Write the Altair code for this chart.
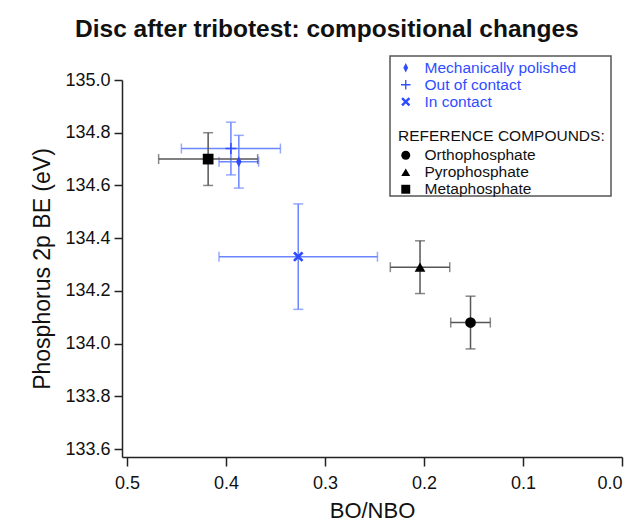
import altair as alt
import pandas as pd

# ---- data ----
samples = ["Mechanically polished", "Out of contact", "In contact"]
sample_x = [0.387, 0.395, 0.327]
sample_y = [134.69, 134.74, 134.33]
sample_xerr = [0.02, 0.05, 0.08]
sample_yerr = [0.10, 0.10, 0.20]

refs = ["Orthophosphate", "Pyrophosphate", "Metaphosphate"]
ref_x = [0.153, 0.204, 0.418]
ref_y = [134.08, 134.29, 134.70]
ref_xerr = [0.02, 0.03, 0.05]
ref_yerr = [0.10, 0.10, 0.10]

x_ticks = [0.0, 0.1, 0.2, 0.3, 0.4, 0.5]
y_ticks = [133.6, 133.8, 134.0, 134.2, 134.4, 134.6, 134.8, 135.0]

FONT = "Liberation Sans"
BLUE = "#2f4dff"
BLUE_ERR = "#6a86ff"
GRAY_ERR = "#555555"


def frame(names, xs, ys, xe, ye):
    return pd.DataFrame({
        "name": names, "x": xs, "y": ys,
        "xlo": [a - b for a, b in zip(xs, xe)], "xhi": [a + b for a, b in zip(xs, xe)],
        "ylo": [a - b for a, b in zip(ys, ye)], "yhi": [a + b for a, b in zip(ys, ye)],
    })


sdf = frame(samples, sample_x, sample_y, sample_xerr, sample_yerr)
rdf = frame(refs, ref_x, ref_y, ref_xerr, ref_yerr)

xscale = alt.Scale(domain=[0, 0.505], reverse=True, nice=False, zero=False)
yscale = alt.Scale(domain=[133.57, 135.0], nice=False, zero=False)

xaxis = alt.Axis(values=x_ticks, format=".1f", title="BO/NBO", grid=False,
                 labelFontSize=18, titleFontSize=22, titleFontWeight="normal",
                 labelFont=FONT, titleFont=FONT, tickSize=9, labelPadding=8,
                 titlePadding=8, domainColor="#222", tickColor="#222",
                 domainWidth=1.5, tickWidth=1.5, labelColor="#111", titleColor="#111")
yaxis = alt.Axis(values=y_ticks, format=".1f", title="Phosphorus 2p BE (eV)", grid=False,
                 labelFontSize=18, titleFontSize=23, titleFontWeight="normal",
                 labelFont=FONT, titleFont=FONT, tickSize=8, labelPadding=4,
                 titlePadding=10, domainColor="#222", tickColor="#222",
                 domainWidth=1.5, tickWidth=1.5, labelColor="#111", titleColor="#111")

base_s = alt.Chart(sdf)
base_r = alt.Chart(rdf)

# legend box
box = alt.Chart(pd.DataFrame({"k": [0]})).mark_rect(
    fill="white", stroke="#555", strokeWidth=1.5
).encode(x=alt.value(268), x2=alt.value(489), y=alt.value(-24), y2=alt.value(116))

s_xerr = base_s.mark_errorbar(ticks={"size": 10}, thickness=1.5, color=BLUE_ERR).encode(
    x=alt.X("xlo:Q", scale=xscale, axis=xaxis), x2="xhi:Q",
    y=alt.Y("y:Q", scale=yscale, axis=yaxis))
s_yerr = base_s.mark_errorbar(ticks={"size": 10}, thickness=1.5, color=BLUE_ERR).encode(
    x=alt.X("x:Q", scale=xscale, axis=xaxis),
    y=alt.Y("ylo:Q", scale=yscale, axis=yaxis), y2="yhi:Q")
r_xerr = base_r.mark_errorbar(ticks={"size": 10}, thickness=1.5, color=GRAY_ERR).encode(
    x=alt.X("xlo:Q", scale=xscale, axis=xaxis), x2="xhi:Q",
    y=alt.Y("y:Q", scale=yscale, axis=yaxis))
r_yerr = base_r.mark_errorbar(ticks={"size": 10}, thickness=1.5, color=GRAY_ERR).encode(
    x=alt.X("x:Q", scale=xscale, axis=xaxis),
    y=alt.Y("ylo:Q", scale=yscale, axis=yaxis), y2="yhi:Q")

# filled outlines: slim diamond, thin plus, bold cross
DIAMOND = "M0,-1L0.5,0L0,1L-0.5,0Z"
PLUS = ("M-1,-0.14L-0.14,-0.14L-0.14,-1L0.14,-1L0.14,-0.14L1,-0.14"
        "L1,0.14L0.14,0.14L0.14,1L-0.14,1L-0.14,0.14L-1,0.14Z")
CROSS = ("M0.601,0.955L0.955,0.601L-0.601,-0.955L-0.955,-0.601Z"
         "M0.955,-0.601L0.601,-0.955L-0.955,0.601L-0.601,0.955Z")
sample_shapes = [DIAMOND, PLUS, CROSS]

s_pts = base_s.mark_point(filled=True, color=BLUE, opacity=1, size=120, strokeWidth=0).encode(
    x=alt.X("x:Q", scale=xscale, axis=xaxis),
    y=alt.Y("y:Q", scale=yscale, axis=yaxis),
    shape=alt.Shape("name:N", scale=alt.Scale(domain=samples, range=sample_shapes),
                    legend=alt.Legend(title=None, orient="none", legendX=276, legendY=-20,
                                      labelColor=BLUE, labelFontSize=15.5, labelFont=FONT,
                                      symbolFillColor=BLUE, symbolStrokeColor=BLUE,
                                      symbolStrokeWidth=0, symbolSize=90, rowPadding=0,
                                      labelOffset=11, labelLimit=300)),
)

r_pts = base_r.mark_point(filled=True, color="black", opacity=1, size=115).encode(
    x=alt.X("x:Q", scale=xscale, axis=xaxis),
    y=alt.Y("y:Q", scale=yscale, axis=yaxis),
    shape=alt.Shape("name:N", scale=alt.Scale(domain=refs, range=["circle", "triangle-up", "square"]),
                    legend=alt.Legend(title="REFERENCE COMPOUNDS:", orient="none", legendX=276,
                                      legendY=49, titleFontSize=15.5, titleFontWeight="normal",
                                      titleFont=FONT, titleColor="#111", titlePadding=3,
                                      titleLimit=400, labelLimit=300,
                                      labelColor="#111", labelFontSize=15.5, labelFont=FONT,
                                      symbolFillColor="black", symbolStrokeColor="black",
                                      symbolSize=80, rowPadding=0, labelOffset=11)),
)

chart = alt.layer(box, s_xerr, s_yerr, r_xerr, r_yerr, s_pts, r_pts).resolve_scale(
    shape="independent"
).properties(
    width=500, height=377,
    autosize=alt.AutoSizeParams(type="none"),
    padding={"left": 114, "top": 72, "right": 8, "bottom": 65},
    title=alt.TitleParams(text="Disc after tribotest: compositional changes", fontSize=24.5,
                          fontWeight="bold", font=FONT, anchor="start", frame="group",
                          dx=-47, offset=13, color="#111"),
).configure_view(strokeWidth=0)

chart.save("out.html", embed_options={"renderer": "svg", "actions": False})
